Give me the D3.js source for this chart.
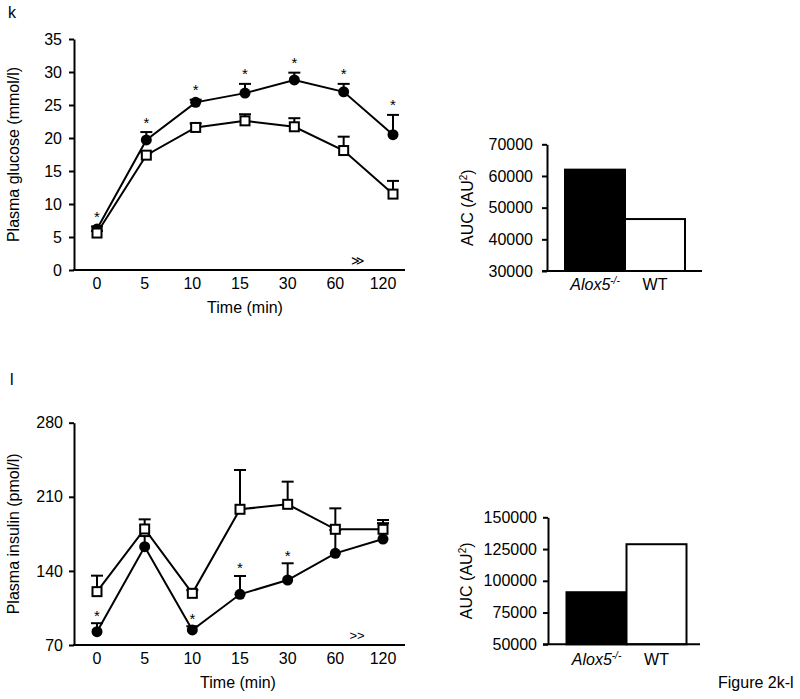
<!DOCTYPE html>
<html>
<head>
<meta charset="utf-8">
<script src="https://cdn.jsdelivr.net/npm/d3@7"></script>
<style>
  html, body { margin: 0; padding: 0; background: #fff; }
  svg { display: block; }
  text { font-family: "Liberation Sans", Arial, Helvetica, sans-serif; fill: #000; }
</style>
</head>
<body>
<svg id="chart" width="800" height="699"></svg>
<script>
// ---------- DATA ----------
const times = ["0", "5", "10", "15", "30", "60", "120"];

// Plasma glucose (mmol/l)
const glucoseKO = [6.2, 19.7, 25.4, 26.8, 28.8, 27.0, 20.5];
const glucoseKOErr = [0.4, 1.2, 0.4, 1.4, 1.1, 1.2, 3.0];
const glucoseWT = [5.6, 17.4, 21.6, 22.6, 21.7, 18.1, 11.5];
const glucoseWTErr = [0.3, 0.4, 0.6, 1.0, 1.3, 2.1, 2.0];
const glucoseSig = [1, 1, 1, 1, 1, 1, 1];
const glucoseTicks = [0, 5, 10, 15, 20, 25, 30, 35];

// Plasma insulin (pmol/l)
const insulinKO = [82.6, 162.9, 84.2, 117.9, 131.4, 156.6, 170.1];
const insulinKOErr = [8.0, 10.0, 3.5, 17.3, 15.8, 22.0, 15.0];
const insulinWT = [120.4, 179.6, 118.8, 198.2, 202.9, 179.3, 179.3];
const insulinWTErr = [15.1, 9.1, 3.0, 37.1, 21.4, 19.8, 8.8];
const insulinSig = [1, 0, 1, 1, 1, 0, 0];
const insulinTicks = [70, 140, 210, 280];

// AUC bars
const groups = ["Alox5", "WT"];
const aucGlucose = [62000, 46400];
const aucGlucoseTicks = [30000, 40000, 50000, 60000, 70000];
const aucInsulin = [91000, 128800];
const aucInsulinTicks = [50000, 75000, 100000, 125000, 150000];

// ---------- DRAW ----------
const svg = d3.select("#chart");
const FS = 16;

function lineChart(cfg) {
  const g = svg.append("g");
  const y = d3.scaleLinear().domain(cfg.domain).range(cfg.yRange);
  const xm = d3.scalePoint().domain(times).range(cfg.markRange);
  const xl = d3.scalePoint().domain(times).range(cfg.labelRange);
  const axisX = cfg.axisX;

  // y axis
  const ya = g.append("g").attr("transform", `translate(${axisX},0)`)
    .call(d3.axisLeft(y).tickValues(cfg.ticks).tickSize(5).tickSizeOuter(0).tickPadding(cfg.tickPad));
  ya.selectAll("path, line").attr("stroke", "#000").attr("stroke-width", 2);
  ya.selectAll("text").attr("font-size", FS).attr("font-family", "Liberation Sans, Arial, sans-serif").attr("fill", "#000");

  // x axis line
  const x0 = y.range()[0];
  g.append("line").attr("x1", axisX - 1).attr("x2", cfg.axisEnd)
    .attr("y1", x0).attr("y2", x0).attr("stroke", "#000").attr("stroke-width", 2);

  // x tick labels
  g.selectAll(".xl").data(times).enter().append("text")
    .attr("x", d => xl(d)).attr("y", x0 + 18.5)
    .attr("text-anchor", "middle").attr("font-size", FS).text(d => d);

  // axis titles
  g.append("text").attr("x", cfg.titleX).attr("y", x0 + 43)
    .attr("text-anchor", "middle").attr("font-size", FS).text("Time (min)");
  const yMid = (y.range()[0] + y.range()[1]) / 2;
  g.append("text").attr("transform", `translate(19,${yMid}) rotate(-90)`)
    .attr("text-anchor", "middle").attr("font-size", FS).text(cfg.yTitle);

  // break mark
  g.append("text").attr("x", cfg.breakX).attr("y", x0 - 5)
    .attr("text-anchor", "middle").attr("font-size", 13).text(cfg.breakSym);

  const line = d3.line().x((d, i) => xm(times[i])).y(d => y(d));

  function series(vals, errs, filled) {
    // error bars (upper only)
    const eb = g.append("g").attr("stroke", "#000").attr("stroke-width", 2);
    vals.forEach((v, i) => {
      const cx = xm(times[i]);
      const top = y(v + errs[i]);
      eb.append("line").attr("x1", cx).attr("x2", cx).attr("y1", y(v)).attr("y2", top);
      eb.append("line").attr("x1", cx - 6).attr("x2", cx + 6).attr("y1", top).attr("y2", top);
    });
    g.append("path").datum(vals).attr("d", line)
      .attr("fill", "none").attr("stroke", "#000").attr("stroke-width", 2);
    if (filled) {
      g.selectAll(null).data(vals).enter().append("circle")
        .attr("cx", (d, i) => xm(times[i])).attr("cy", d => y(d)).attr("r", 5.5).attr("fill", "#000");
    } else {
      g.selectAll(null).data(vals).enter().append("rect")
        .attr("x", (d, i) => xm(times[i]) - 4.5).attr("y", d => y(d) - 4.5)
        .attr("width", 9).attr("height", 9)
        .attr("fill", "#fff").attr("stroke", "#000").attr("stroke-width", 2);
    }
  }
  series(cfg.ko, cfg.koErr, true);
  series(cfg.wt, cfg.wtErr, false);

  // significance asterisks
  cfg.sig.forEach((s, i) => {
    if (!s) return;
    const cy = y(cfg.ko[i] + cfg.koErr[i]) - cfg.starOff;
    g.append("text").attr("x", xm(times[i])).attr("y", cy + 9)
      .attr("text-anchor", "middle").attr("font-size", 15).text("*");
  });
}

function barChart(cfg) {
  const g = svg.append("g");
  const y = d3.scaleLinear().domain(cfg.domain).range(cfg.yRange);
  const x = d3.scaleBand().domain(groups).range(cfg.xRange).padding(0);
  const ya = g.append("g").attr("transform", `translate(${cfg.axisX},0)`)
    .call(d3.axisLeft(y).tickValues(cfg.ticks).tickSize(5).tickSizeOuter(0).tickPadding(cfg.tickPad).tickFormat(d3.format("d")));
  ya.selectAll("path, line").attr("stroke", "#000").attr("stroke-width", 2);
  ya.selectAll("text").attr("font-size", FS).attr("font-family", "Liberation Sans, Arial, sans-serif").attr("fill", "#000");

  g.selectAll(null).data(cfg.values).enter().append("rect")
    .attr("x", (d, i) => x(groups[i])).attr("width", x.bandwidth())
    .attr("y", d => y(d)).attr("height", d => y(cfg.domain[0]) - y(d))
    .attr("fill", (d, i) => i === 0 ? "#000" : "#fff")
    .attr("stroke", "#000").attr("stroke-width", 2);

  const base = y(cfg.domain[0]);
  g.append("line").attr("x1", cfg.axisX - 5).attr("x2", cfg.axisEnd)
    .attr("y1", base).attr("y2", base).attr("stroke", "#000").attr("stroke-width", 2);

  // category labels
  const t1 = g.append("text").attr("x", x(groups[0]) + x.bandwidth() / 2).attr("y", base + cfg.labelDy)
    .attr("text-anchor", "middle").attr("font-size", FS);
  t1.append("tspan").attr("font-style", "italic").text(groups[0]);
  t1.append("tspan").attr("font-style", "italic").attr("font-size", 10).attr("dy", -6).text("-/-");
  g.append("text").attr("x", x(groups[1]) + x.bandwidth() / 2).attr("y", base + cfg.labelDy)
    .attr("text-anchor", "middle").attr("font-size", FS).text(groups[1]);

  const yMid = (y.range()[0] + y.range()[1]) / 2;
  const yt = g.append("text").attr("transform", `translate(${cfg.titleX},${yMid}) rotate(-90)`)
    .attr("text-anchor", "middle").attr("font-size", FS);
  yt.append("tspan").text("AUC (AU");
  yt.append("tspan").attr("font-size", 10).attr("dy", -6).text("2");
  yt.append("tspan").attr("dy", 6).text(")");
}

// panel letters
svg.append("text").attr("x", 8).attr("y", 18).attr("font-size", FS).text("k");
svg.append("text").attr("x", 10).attr("y", 385).attr("font-size", FS).text("l");

lineChart({
  domain: [0, 35], yRange: [270, 39], ticks: glucoseTicks,
  markRange: [97, 393], labelRange: [97, 383], axisX: 74, axisEnd: 405, tickPad: 7,
  titleX: 245, yTitle: "Plasma glucose (mmol/l)", breakX: 358, breakSym: "\u226B",
  ko: glucoseKO, koErr: glucoseKOErr, wt: glucoseWT, wtErr: glucoseWTErr, sig: glucoseSig, starOff: 13.5
});

lineChart({
  domain: [70, 280], yRange: [645, 422.7], ticks: insulinTicks,
  markRange: [97, 383], labelRange: [97, 383], axisX: 74, axisEnd: 405, tickPad: 6,
  titleX: 238, yTitle: "Plasma insulin (pmol/l)", breakX: 357, breakSym: ">>",
  ko: insulinKO, koErr: insulinKOErr, wt: insulinWT, wtErr: insulinWTErr, sig: insulinSig, starOff: 11.5
});

barChart({
  domain: [30000, 70000], yRange: [271, 144.3], ticks: aucGlucoseTicks, values: aucGlucose,
  xRange: [565, 685], axisX: 547, axisEnd: 702, tickPad: 9, labelDy: 19, titleX: 473
});

barChart({
  domain: [50000, 150000], yRange: [644.3, 517.3], ticks: aucInsulinTicks, values: aucInsulin,
  xRange: [566.5, 686.5], axisX: 548, axisEnd: 700, tickPad: 6, labelDy: 21, titleX: 472
});

svg.append("text").attr("x", 718).attr("y", 688).attr("font-size", FS).text("Figure 2k-l");
</script>
</body>
</html>
